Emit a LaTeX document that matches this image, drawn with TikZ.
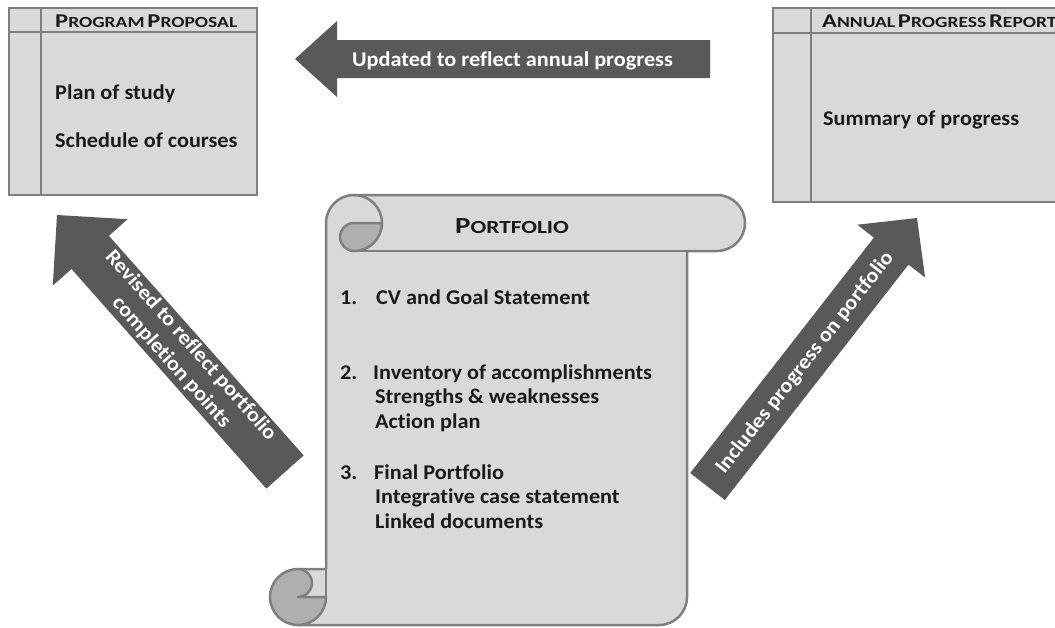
\documentclass[tikz,border=0pt]{standalone}
\usepackage{fontspec}
\setmainfont{Carlito}[Ligatures=NoCommon]
\newfontfamily\bodyfont{Carlito}[FakeStretch=1.06, Ligatures=NoCommon]
\newfontfamily\capsfont{Carlito}[FakeStretch=1.26, Ligatures=NoCommon]
\definecolor{panelfill}{HTML}{D9D9D9}
\definecolor{boxline}{HTML}{7F7F7F}
\definecolor{curlfill}{HTML}{AFAFAF}
\definecolor{arrowfill}{HTML}{595959}
\definecolor{txt}{HTML}{1A1A1A}
\newcommand\scBig[1]{{\fontsize{19.5}{21}\selectfont #1}}
\newcommand\scSmall[1]{{\fontsize{15.5}{17}\selectfont #1}}
\newcommand\pfBig[1]{{\fontsize{23}{25}\selectfont #1}}
\newcommand\pfSmall[1]{{\fontsize{18.5}{20}\selectfont #1}}
\tikzset{
  panel/.style={draw=boxline, line width=2.8pt, fill=panelfill},
  sepline/.style={draw=boxline, line width=2.8pt},
  scrollbody/.style={draw=boxline, line width=2.5pt, fill=panelfill, line join=round},
  curl/.style={draw=boxline, line width=2.5pt, fill=curlfill, line join=round},
  scrollline/.style={draw=boxline, line width=2.5pt, line cap=round},
  bigarrow/.style={fill=arrowfill, draw=none},
  bodytext/.style={font=\bodyfont\bfseries\fontsize{21}{25}\selectfont, text=txt, inner sep=0pt},
  headtext/.style={font=\capsfont\bfseries, text=txt, inner sep=0pt},
  arrowtext/.style={font=\bodyfont\bfseries\fontsize{21}{26}\selectfont, text=white, inner sep=0pt}
}
\begin{document}
\begin{tikzpicture}[x=1pt, y=-1pt]
\useasboundingbox (0,0) rectangle (1055,627);
\clip (0,0) rectangle (1055,627);

% ---- Program proposal panel
\draw[panel] (9,8) rectangle (257,195);
\draw[sepline] (9,32) -- (257,32);
\draw[sepline] (41,8) -- (41,195);
\node[headtext, anchor=base west] (pphead) at (55,27) {\scBig{P}\scSmall{ROGRAM} \scBig{P}\scSmall{ROPOSAL}};
\node[bodytext, anchor=base west] (plan) at (55,99) {Plan of study};
\node[bodytext, anchor=base west] (sched) at (55,147) {Schedule of courses};

% ---- Annual progress report panel
\draw[panel] (773,8) rectangle (1070,202);
\draw[sepline] (773,33) -- (1070,33);
\draw[sepline] (811,8) -- (811,202);
\node[headtext, anchor=base west] (aphead) at (822,27) {\scBig{A}\scSmall{NNUAL} \scBig{P}\scSmall{ROGRESS} \scBig{R}\scSmall{EPORT}};
\node[bodytext, anchor=base west] (summ) at (823,125) {Summary of progress};

% ---- Top arrow (right to left)
\fill[bigarrow] (295,59) -- (337,21) -- (337,40) -- (710,40) -- (710,78) -- (337,78) -- (337,97) -- cycle;
\node[arrowtext, anchor=base] (updtxt) at (512.5,66.5) {Updated to reflect annual progress};

% ---- Left diagonal arrow
\fill[bigarrow] (57,215) -- (127.6,219.2) -- (108.9,235.8) -- (303.7,455.4) -- (266.3,488.6) -- (71.5,269.0) -- (52.8,285.6) -- cycle;
\node[arrowtext, rotate=-48.4, align=center] (revtxt) at (181,354) {Revised to reflect portfolio\\completion points};

% ---- Right diagonal arrow
\fill[bigarrow] (917,218) -- (925.1,277.5) -- (908.5,264.6) -- (724.8,500.0) -- (690.2,473.0) -- (873.9,237.6) -- (857.3,224.7) -- cycle;
\node[arrowtext, rotate=52] (inctxt) at (805,363) {Includes progress on portfolio};

% ---- Scroll
\draw[scrollbody] (326,223) arc[start angle=180, end angle=270, radius=28]
  -- (717,195) arc[start angle=270, end angle=450, radius=28]
  -- (687,251) -- (687,597) arc[start angle=0, end angle=90, radius=28]
  -- (298,625) -- (298,569) -- (326,569) -- cycle;
\draw[scrollline] (326,569) -- (326,597);
\draw[scrollline] (354,251) -- (717,251);
\draw[curl] (382,223) arc[start angle=0, end angle=90, radius=28]
  arc[start angle=90, end angle=270, radius=14] -- cycle;
\draw[scrollline] (354,195) arc[start angle=270, end angle=360, radius=28];
\draw[curl] (298,597) -- (326,597) arc[start angle=0, end angle=270, radius=28]
  arc[start angle=270, end angle=450, radius=14] -- cycle;

\node[headtext, anchor=base west] (pftitle) at (455,233) {\pfBig{P}\pfSmall{ORTFOLIO}};

\node[bodytext, anchor=base west] (n1) at (340,304) {1.};
\node[bodytext, anchor=base west] (i1) at (376,304) {CV and Goal Statement};
\node[bodytext, anchor=base west] (n2) at (340,379) {2.};
\node[bodytext, anchor=base west] (i2a) at (373,379) {Inventory of accomplishments};
\node[bodytext, anchor=base west] (i2b) at (375,403) {Strengths \& weaknesses};
\node[bodytext, anchor=base west] (i2c) at (375,428) {Action plan};
\node[bodytext, anchor=base west] (n3) at (340,479) {3.};
\node[bodytext, anchor=base west] (i3a) at (374,479) {Final Portfolio};
\node[bodytext, anchor=base west] (i3b) at (375,503) {Integrative case statement};
\node[bodytext, anchor=base west] (i3c) at (375,528) {Linked documents};
\end{tikzpicture}
\end{document}
